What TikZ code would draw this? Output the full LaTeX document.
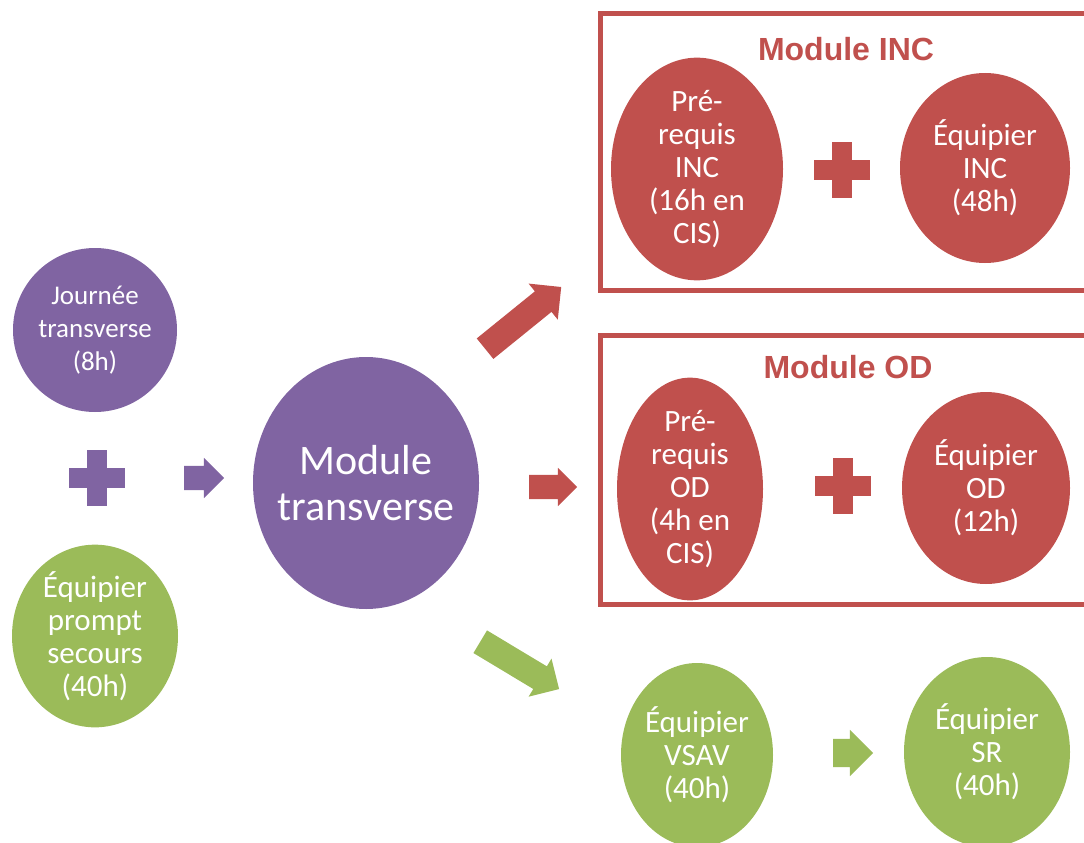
\documentclass[tikz,border=0pt]{standalone}
\usepackage{fontspec}
\setmainfont{Carlito}
\newfontfamily\titlefont{Liberation Sans}
\usetikzlibrary{shapes.geometric,shapes.arrows}

\definecolor{modpurple}{HTML}{8064A2}
\definecolor{modred}{HTML}{C0504D}
\definecolor{modgreen}{HTML}{9BBB59}

\tikzset{
    bubble/.style={ellipse, inner sep=0pt, text=white, align=center,
        font=\fontsize{31}{33}\selectfont},
    blockarrow/.style={single arrow, inner xsep=0pt, inner ysep=12pt,
        single arrow head extend=8pt, single arrow head indent=0pt},
    modbox/.style={draw=modred, line width=5pt},
    modtitle/.style={text=modred, font=\titlefont\bfseries\fontsize{32}{35}\selectfont},
}

\begin{document}
\begin{tikzpicture}[x=1pt, y=-1pt]
    \useasboundingbox (0,0) rectangle (1084,843);

    % Boxes of the two modules
    \draw[modbox] (600,14) rectangle (1095,290);
    \draw[modbox] (600,335) rectangle (1095,604);
    \node[modtitle] (tinc) at (846,49) {Module INC};
    \node[modtitle] (tod) at (848,367) {Module OD};

    % Left column
    \node[bubble, fill=modpurple, minimum width=164, minimum height=164,
        font=\fontsize{27}{33}\selectfont] (jour) at (95,330) {Journée\\transverse\\(8h)};
    \node[bubble, fill=modgreen, minimum width=166, minimum height=182] (eps) at (95,636)
        {Équipier\\prompt\\secours\\(40h)};

    % Centre
    \node[bubble, fill=modpurple, inner sep=-30pt, minimum width=226, minimum height=252,
        font=\fontsize{42}{46}\selectfont] (modt) at (366,483) {Module\\transverse};

    % Module INC
    \node[bubble, fill=modred, minimum width=172, minimum height=192] (preinc) at (697,169)
        {Pré-\\requis\\INC\\(16h en\\CIS)};
    \node[bubble, fill=modred, minimum width=170, minimum height=190] (eqinc) at (985,168)
        {Équipier\\INC\\(48h)};

    % Module OD
    \node[bubble, fill=modred, minimum width=146, minimum height=190] (preod) at (690,489)
        {Pré-\\requis\\OD\\(4h en\\CIS)};
    \node[bubble, fill=modred, minimum width=168, minimum height=192] (eqod) at (986,488)
        {Équipier\\OD\\(12h)};

    % Secours routier
    \node[bubble, fill=modgreen, minimum width=152, minimum height=184] (vsav) at (697,755)
        {Équipier\\VSAV\\(40h)};
    \node[bubble, fill=modgreen, minimum width=166, minimum height=190] (sr) at (987,752)
        {Équipier\\SR\\(40h)};

    % Plus signs
    \foreach \px/\py/\pc in {97/478/modpurple, 842/170/modred, 843/486/modred} {
        \fill[\pc] (\px-28,\py-10) rectangle (\px+28,\py+10);
        \fill[\pc] (\px-10,\py-28) rectangle (\px+10,\py+28);
    }

    % Block arrows
    \node[blockarrow, fill=modpurple, minimum height=40] (ajour) at (198,478) {};
    \node[blockarrow, fill=modred, minimum height=98, inner ysep=13pt,
        single arrow head extend=10pt, rotate=39] (ainc) at (518,322) {};
    \node[blockarrow, fill=modred, minimum height=48, single arrow head extend=7pt] (aod) at (547,487) {};
    \node[blockarrow, fill=modgreen, minimum height=92, inner ysep=13pt,
        single arrow head extend=9pt, rotate=-31] (avsav) at (514,662) {};
    \node[blockarrow, fill=modgreen, minimum height=40, inner ysep=14pt,
        single arrow head extend=9pt] (asr) at (846,753) {};
\end{tikzpicture}
\end{document}
